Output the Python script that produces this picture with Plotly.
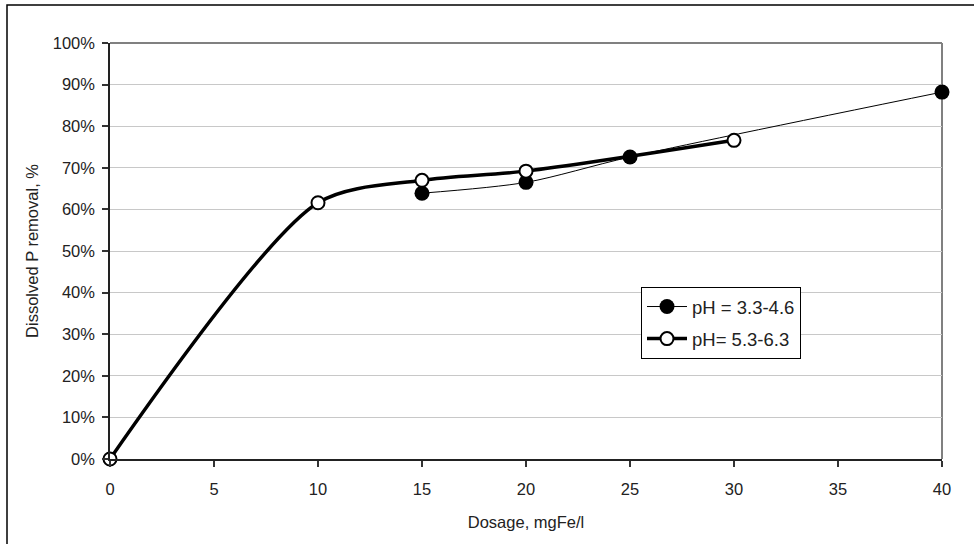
import plotly.graph_objects as go

# Data
dose_low_ph = [15, 20, 25, 40]
removal_low_ph = [0.639, 0.665, 0.726, 0.882]

dose_high_ph = [0, 10, 15, 20, 30]
removal_high_ph = [0.0, 0.616, 0.670, 0.692, 0.766]

x_ticks = [0, 5, 10, 15, 20, 25, 30, 35, 40]
y_ticks = [0, 0.1, 0.2, 0.3, 0.4, 0.5, 0.6, 0.7, 0.8, 0.9, 1.0]

FONT = "Liberation Sans, Arial, sans-serif"

fig = go.Figure()
fig.add_trace(go.Scatter(
    x=dose_low_ph, y=removal_low_ph, name="pH = 3.3-4.6",
    mode="lines+markers", legendgroup="a", cliponaxis=False,
    line=dict(color="black", width=1, shape="spline", smoothing=0.8),
    marker=dict(symbol="circle", size=15, color="black", line=dict(color="black", width=0)),
))
fig.add_trace(go.Scatter(
    x=dose_high_ph, y=removal_high_ph, name="pH= 5.3-6.3",
    mode="lines+markers", legendgroup="b", cliponaxis=False,
    line=dict(color="black", width=3.5, shape="spline", smoothing=0.8),
    marker=dict(symbol="circle", size=13, color="white", line=dict(color="black", width=2)),
))

W, H = 974, 544
L, R, T, B = 110, 32, 43, 85
pw, ph = W - L - R, H - T - B

def px(xp):
    return (xp - L) / pw

def py(yp):
    return (H - B - yp) / ph

shapes = [
    # plot area top and right border (gray)
    dict(type="line", xref="paper", yref="paper", x0=0, x1=1, y0=1, y1=1,
         line=dict(color="#808080", width=2), layer="below"),
    dict(type="line", xref="paper", yref="paper", x0=1, x1=1, y0=0, y1=1,
         line=dict(color="#808080", width=2), layer="below"),
    # chart outer border
    dict(type="rect", xref="paper", yref="paper", x0=px(7), x1=px(990), y0=py(560), y1=py(5),
         line=dict(color="black", width=1.5), fillcolor="rgba(0,0,0,0)"),
]

fig.update_layout(
    width=W, height=H,
    margin=dict(l=L, r=R, t=T, b=B),
    paper_bgcolor="white", plot_bgcolor="white",
    font=dict(family=FONT, size=16.5, color="#222222"),
    showlegend=True,
    legend=dict(x=px(641), y=py(287), xanchor="left", yanchor="top",
                bgcolor="white", bordercolor="black", borderwidth=1,
                font=dict(family=FONT, size=18.5, color="#222222"),
                traceorder="grouped", tracegroupgap=5, itemwidth=40),
    shapes=shapes,
    xaxis=dict(range=[0, 40], tickvals=x_ticks, ticks="outside", ticklen=6, tickwidth=1.5,
               tickcolor="#333333", showline=True, linecolor="#222222", linewidth=1.5,
               showgrid=False, zeroline=False, ticklabelstandoff=8,
               title=dict(text="Dosage, mgFe/l", font=dict(family=FONT, size=16.5), standoff=20)),
    yaxis=dict(range=[0, 1.0], tickvals=y_ticks, tickformat=".0%", ticks="outside", ticklen=6,
               tickwidth=1.5, tickcolor="#333333", showline=True, linecolor="#222222", linewidth=1.5,
               showgrid=True, gridcolor="#c8c8c8", gridwidth=1, zeroline=False, ticklabelstandoff=4,
               title=dict(text="Dissolved P removal, %", font=dict(family=FONT, size=16.5), standoff=10)),
)

fig.write_html("out.html", config={"displayModeBar": False},
               post_script="document.body.style.margin='0px';")
